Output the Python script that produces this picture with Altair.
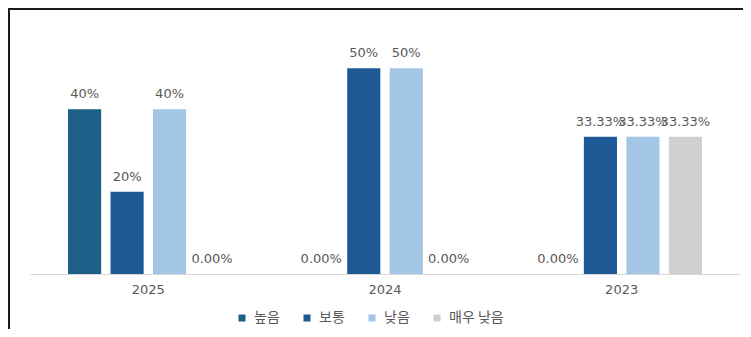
import altair as alt
import pandas as pd

years = ["2025", "2024", "2023"]
levels = ["높음", "보통", "낮음", "매우 낮음"]
colors = ["#1d5f86", "#1f5a96", "#a3c6e6", "#d0d0d0"]

vals_high = [0.40, 0.0, 0.0]
vals_mid = [0.20, 0.50, 0.3333]
vals_low = [0.40, 0.50, 0.3333]
vals_vlow = [0.0, 0.0, 0.3333]

lbl_high = ["40%", "0.00%", "0.00%"]
lbl_mid = ["20%", "50%", "33.33%"]
lbl_low = ["40%", "50%", "33.33%"]
lbl_vlow = ["0.00%", "0.00%", "33.33%"]

rows = []
for lev, vals, lbls in zip(levels,
                           [vals_high, vals_mid, vals_low, vals_vlow],
                           [lbl_high, lbl_mid, lbl_low, lbl_vlow]):
    for y, v, l in zip(years, vals, lbls):
        rows.append({"year": y, "level": lev, "value": v, "label": l})
df = pd.DataFrame(rows)

FONT = "DejaVu Sans"
KFONT = "Noto Sans CJK KR"

x_enc = alt.X("year:N", sort=years, title=None,
              scale=alt.Scale(paddingInner=0.282, paddingOuter=0.141),
              axis=alt.Axis(labelAngle=0, ticks=False, domainColor="#d9d9d9",
                            labelColor="#595959", labelFont=FONT, labelFontSize=13,
                            labelPadding=9))
xo_enc = alt.XOffset("level:N", sort=levels,
                     scale=alt.Scale(paddingInner=0.22, paddingOuter=0.11))
y_enc = alt.Y("value:Q", scale=alt.Scale(domain=[0, 0.6], nice=False), axis=None)

bars = alt.Chart(df).mark_bar().encode(
    x=x_enc, xOffset=xo_enc, y=y_enc,
    color=alt.Color("level:N", sort=levels,
                    scale=alt.Scale(domain=levels, range=colors),
                    legend=alt.Legend(title=None, orient="none", direction="horizontal",
                                      legendX=205, legendY=284,
                                      symbolType="square", symbolSize=49,
                                      symbolStrokeWidth=0, labelFont=KFONT,
                                      labelFontSize=14, labelColor="#595959",
                                      columnPadding=20, labelOffset=5)),
)

text = alt.Chart(df).mark_text(dy=-11, baseline="alphabetic", font=FONT,
                               fontSize=13, color="#595959").encode(
    x=alt.X("year:N", sort=years), xOffset=alt.XOffset("level:N", sort=levels),
    y=alt.Y("value:Q"), text="label:N",
)

one = pd.DataFrame({"a": [0]})
left_border = alt.Chart(one).mark_rule(color="#1a1a1a", strokeWidth=2).encode(
    x=alt.value(-21), y=alt.value(-18), y2=alt.value(304))
top_border = alt.Chart(one).mark_rule(color="#1a1a1a", strokeWidth=2).encode(
    x=alt.value(-22), x2=alt.value(713), y=alt.value(-18))

chart = alt.layer(bars, text, left_border, top_border).properties(
    width=710, height=247,
    padding={"left": 22, "top": 19, "right": 3, "bottom": 55},
    autosize=alt.AutoSizeParams(type="none"),
    background="white",
).configure_view(stroke=None)

chart.save("out.html", embed_options={"renderer": "svg", "actions": False})
